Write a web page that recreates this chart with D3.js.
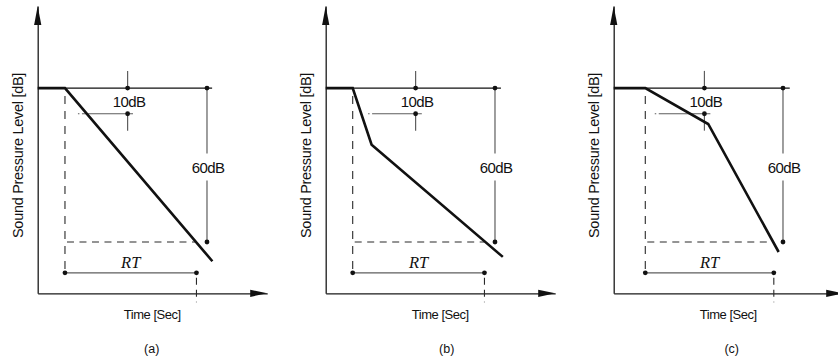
<!DOCTYPE html>
<html>
<head>
<meta charset="utf-8">
<script src="https://cdn.jsdelivr.net/npm/d3@7"></script>
<style>
  body { margin: 0; background: #fff; }
  svg { display: block; }
</style>
</head>
<body>
<div id="chart"></div>
<script>
// panel captions
const captions = ["(a)", "(b)", "(c)"];

// decay curves: [time, level dB] (time in arbitrary units, 0 dB = start level)
const decayA = [[0, 0], [10.1, 0], [64.7, -67.5]];
const decayB = [[0, 0], [10.0, 0], [17.0, -22.1], [65.6, -65.8]];
const decayC = [[0, 0], [11.7, 0], [35.0, -14.0], [61.1, -63.9]];
const decays = [decayA, decayB, decayC];

// reading points per panel
const rtEnd = [58.8, 58.8, 59.3];        // time where decay reaches -60 dB
const refLineEnd = [64.6, 64.9, 65.2];   // end of thin 0 dB reference line
const tenDbX = [33.3, 33.3, 33.6];       // 10 dB marker position
const tenDbLine = [[14.9, 35.3], [15.7, 35.6], [15.2, 35.8]];
const sixtyDbX = [62.7, 62.7, 62.7];     // 60 dB marker position

// levels (dB)
const levelTop = 0;
const levelTen = -10;
const levelSixty = -60;
const levelRT = -72;
const tickAbove = 6.7;
const tickBelow = -16.6;

const width = 838, height = 362;
const panelStep = 288, panelLeft = 37.7;

const svg = d3.select("#chart").append("svg")
  .attr("width", width)
  .attr("height", height);

svg.append("rect").attr("width", width).attr("height", height).attr("fill", "#fff");

const dimColor = "#5e5e5e";
const dashColor = "#2a2a2a";
const sans = "'Liberation Sans', Arial, sans-serif";

decays.forEach((decay, i) => {
  const x0 = panelLeft + panelStep * i;
  const x = d3.scaleLinear().domain([0, 85]).range([x0, x0 + 229.5]);
  const y = d3.scaleLinear().domain([-80, 32]).range([293.3, 6]);
  const g = svg.append("g");

  // axes (no ticks, just the domain lines)
  const xAxis = g.append("g")
    .attr("transform", `translate(0,${y(-80)})`)
    .call(d3.axisBottom(x).tickValues([]).tickSizeOuter(0));
  const yAxis = g.append("g")
    .attr("transform", `translate(${x(0)},0)`)
    .call(d3.axisLeft(y).tickValues([]).tickSizeOuter(0));
  [xAxis, yAxis].forEach((a) =>
    a.select(".domain").attr("stroke", "#1a1a1a").attr("stroke-width", 1.3));

  // arrow heads
  const tx = x(85), ty = y(-80);
  g.append("path")
    .attr("d", `M${tx},${ty} L${tx - 17},${ty - 3.6} L${tx - 17},${ty + 3.6} Z`)
    .attr("fill", "#111");
  const ax = x(0), ay = y(32);
  g.append("path")
    .attr("d", `M${ax},${ay} L${ax - 3.6},${ay + 19} L${ax + 3.6},${ay + 19} Z`)
    .attr("fill", "#111");

  const t0 = decay[1][0];

  const line = (x1, y1, x2, y2) => g.append("line")
    .attr("x1", x1).attr("y1", y1).attr("x2", x2).attr("y2", y2)
    .attr("fill", "none");

  // thin 0 dB reference line
  line(x(t0), y(levelTop), x(refLineEnd[i]), y(levelTop))
    .attr("stroke", "#111").attr("stroke-width", 1.1);

  // dashed construction lines
  line(x(t0), y(levelTop), x(t0), y(levelRT))
    .attr("stroke", dashColor).attr("stroke-width", 1.1)
    .attr("stroke-dasharray", "8,7").attr("stroke-dashoffset", 7);
  line(x(t0), y(levelSixty), x(rtEnd[i]), y(levelSixty))
    .attr("stroke", dashColor).attr("stroke-width", 1.1)
    .attr("stroke-dasharray", "7,5.5").attr("stroke-dashoffset", -2);
  line(x(rtEnd[i]), y(levelRT), x(rtEnd[i]), y(-80) + 9)
    .attr("stroke", dashColor).attr("stroke-width", 1.1)
    .attr("stroke-dasharray", "7,5").attr("stroke-dashoffset", 7);

  // RT dimension
  line(x(t0), y(levelRT), x(rtEnd[i]), y(levelRT))
    .attr("stroke", dimColor).attr("stroke-width", 1.2);

  // 10 dB dimension
  line(x(tenDbX[i]), y(tickAbove), x(tenDbX[i]), y(levelTop))
    .attr("stroke", dimColor).attr("stroke-width", 1.2);
  line(x(tenDbX[i]), y(levelTen), x(tenDbX[i]), y(tickBelow))
    .attr("stroke", dimColor).attr("stroke-width", 1.2);
  line(x(tenDbLine[i][0]), y(levelTen), x(tenDbLine[i][1]), y(levelTen))
    .attr("stroke", dimColor).attr("stroke-width", 1.2)
    .attr("stroke-dasharray", "1.5,2.5,1000");

  // 60 dB dimension, broken around its label
  line(x(sixtyDbX[i]), y(levelTop), x(sixtyDbX[i]), y(-25.5))
    .attr("stroke", dimColor).attr("stroke-width", 1.2);
  line(x(sixtyDbX[i]), y(-36), x(sixtyDbX[i]), y(levelSixty))
    .attr("stroke", dimColor).attr("stroke-width", 1.2);

  // decay curve
  g.append("path")
    .datum(decay)
    .attr("d", d3.line().x((d) => x(d[0])).y((d) => y(d[1])))
    .attr("fill", "none")
    .attr("stroke", "#111")
    .attr("stroke-width", 2.6)
    .attr("stroke-linejoin", "miter");

  // dots
  const dots = [
    [tenDbX[i], levelTop], [sixtyDbX[i], levelTop],
    [tenDbX[i], levelTen], [sixtyDbX[i], levelSixty],
    [t0, levelRT], [rtEnd[i], levelRT],
  ];
  g.selectAll(".dot").data(dots).enter().append("circle")
    .attr("class", "dot")
    .attr("cx", (d) => x(d[0]))
    .attr("cy", (d) => y(d[1]))
    .attr("r", 2.4)
    .attr("fill", "#111");

  // labels
  g.append("text")
    .attr("x", x(tenDbX[i]) + 1.5).attr("y", y(levelTop) + 19)
    .attr("text-anchor", "middle")
    .style("font-family", sans).style("font-size", "15px").style("letter-spacing", "-0.6px")
    .attr("fill", "#111")
    .text("10dB");

  g.append("text")
    .attr("x", x(sixtyDbX[i]) + 1).attr("y", y(-31) + 5.5)
    .attr("text-anchor", "middle")
    .style("font-family", sans).style("font-size", "15px").style("letter-spacing", "-0.6px")
    .attr("fill", "#111")
    .text("60dB");

  g.append("text")
    .attr("x", (x(t0) + x(rtEnd[i])) / 2).attr("y", y(levelRT) - 4.5)
    .attr("text-anchor", "middle")
    .style("font-family", "'Liberation Serif', 'Times New Roman', serif")
    .style("font-style", "italic").style("font-size", "16.5px")
    .attr("fill", "#111")
    .text("RT");

  g.append("text")
    .attr("x", x0 + 114.5).attr("y", y(-80) + 26)
    .attr("text-anchor", "middle")
    .style("font-family", sans).style("font-size", "13px").style("letter-spacing", "-0.5px")
    .attr("fill", "#111")
    .text("Time [Sec]");

  g.append("text")
    .attr("transform", `translate(${x0 - 19.5},155.5) rotate(-90)`)
    .attr("text-anchor", "middle")
    .attr("dy", "0.35em")
    .style("font-family", sans).style("font-size", "14.5px").style("letter-spacing", "-0.3px")
    .attr("fill", "#111")
    .text("Sound Pressure Level [dB]");

  g.append("text")
    .attr("x", x0 + [114, 121, 118][i]).attr("y", 352.5)
    .attr("text-anchor", "middle")
    .style("font-family", sans).style("font-size", "12.5px")
    .attr("fill", "#111")
    .text(captions[i]);
});
</script>
</body>
</html>
